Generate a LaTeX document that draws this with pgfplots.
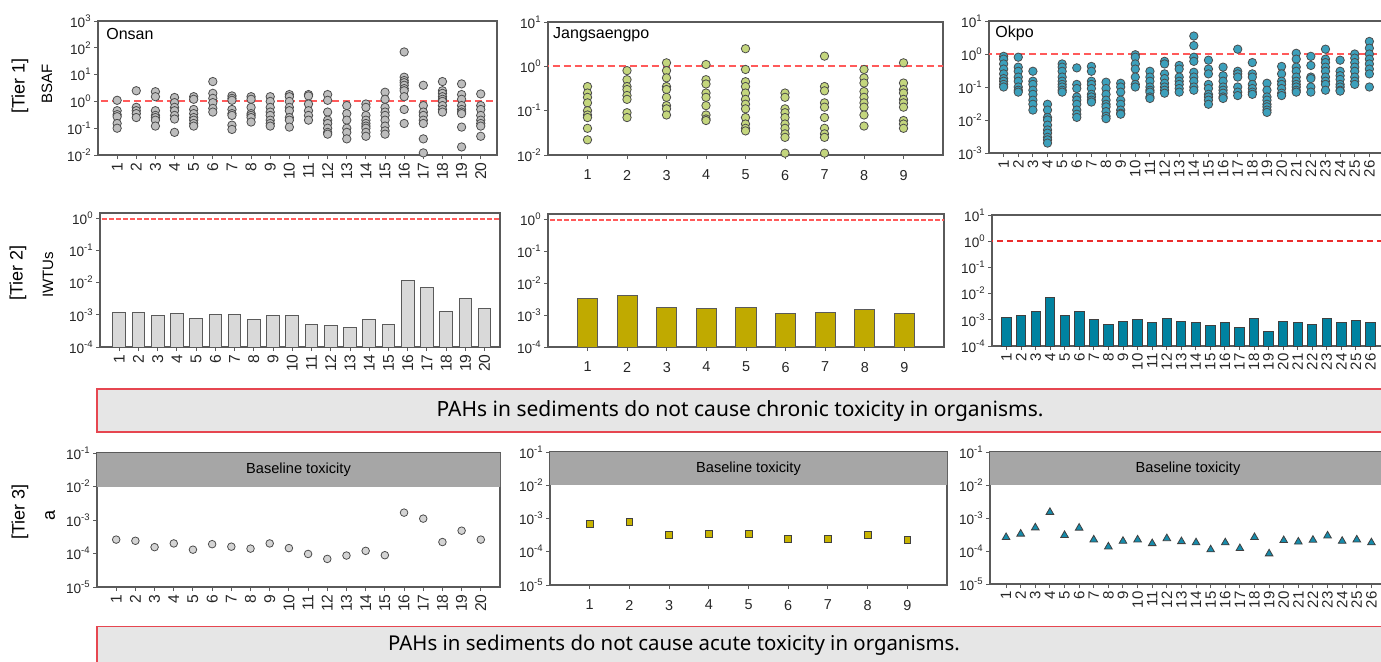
\documentclass[border=0pt]{standalone}
\usepackage{pgfplots}
\pgfplotsset{compat=1.18}
\usepackage{fontspec}
\setmainfont{Liberation Sans}
\newfontfamily\bannerfont{Noto Sans}
\definecolor{axgray}{HTML}{5A5A5A}
\definecolor{sgray}{HTML}{BDBDBD}
\definecolor{sgreen}{RGB}{196,214,125}
\definecolor{steal}{RGB}{60,160,188}
\definecolor{bgray}{HTML}{D9D9D9}
\definecolor{bolive}{RGB}{192,170,0}
\definecolor{bteal}{RGB}{0,130,160}
\definecolor{tgray}{HTML}{D4D4D4}
\definecolor{tolive}{RGB}{200,180,0}
\definecolor{tteal}{RGB}{22,140,172}
\definecolor{bandgray}{HTML}{A6A6A6}
\definecolor{bannerfill}{HTML}{E6E6E6}
\definecolor{bannerred}{RGB}{230,70,80}
\definecolor{dashred}{RGB}{255,90,90}
\definecolor{dashred2}{RGB}{235,45,45}
\newcommand{\ylab}{10\textsuperscript{\pgfmathparse{int(round(\tick))}\pgfmathresult}}
\pgfplotsset{every axis/.append style={
    scale only axis,
    /pgf/number format/assume math mode=true,
    axis line style={draw=axgray, line width=0.6pt},
    tick style={draw=axgray, line width=0.5pt},
    major tick length=2pt, tick align=outside,
    xtick pos=bottom, ytick pos=left,
    ticklabel style={text=black!85},
    yticklabel style={inner sep=1pt, font=\fontsize{6.8}{7.5}\selectfont},
    xticklabel style={font=\fontsize{7.8}{8.5}\selectfont},
}}
\tikzset{mysite/.style={font=\fontsize{8}{9}\selectfont, anchor=west, inner sep=0pt}}
\begin{document}
\begin{tikzpicture}
\path[use as bounding box] (0,0) rectangle (690.5pt,330.5pt);
% ---------------- Row 1 ----------------
\begin{axis}[anchor=south west, ymode=log, log basis y=10, yminorticks=false, yticklabel={\ylab},
  xticklabel style={rotate=90, anchor=east, inner sep=1.5pt},
  at={(49pt,253pt)}, width=199.5pt, height=67pt,
  xmin=0, xmax=20.85, ymin=1e-2, ymax=1e3, xtick={1,...,20},
  ytick={1e-2,1e-1,1,10,100,1000}]
\addplot[draw=dashred, line width=1pt, dash pattern=on 3.5pt off 2pt] coordinates {(-1,1) (30,1)};
\addplot[only marks, mark=*, mark size=2.1pt, mark options={fill=sgray, draw=black!70, line width=0.4pt}] coordinates {
(1,1.1)(1,0.45)(1,0.32)(1,0.27)(1,0.15)(1,0.1)
(2,2.5)(2,0.6)(2,0.45)(2,0.35)(2,0.25)
(3,2.3)(3,1.5)(3,0.45)(3,0.3)(3,0.25)(3,0.2)(3,0.12)
(4,1.4)(4,0.9)(4,0.6)(4,0.45)(4,0.3)(4,0.22)(4,0.07)
(5,1.5)(5,1.2)(5,0.5)(5,0.35)(5,0.25)(5,0.2)(5,0.15)(5,0.12)
(6,5.5)(6,2)(6,1.3)(6,0.9)(6,0.55)(6,0.4)
(7,1.6)(7,1.3)(7,1.1)(7,0.5)(7,0.35)(7,0.3)(7,0.13)(7,0.09)
(8,1.5)(8,1.2)(8,0.6)(8,0.35)(8,0.3)(8,0.25)(8,0.17)
(9,1.5)(9,1)(9,0.6)(9,0.4)(9,0.3)(9,0.2)(9,0.15)(9,0.12)
(10,1.8)(10,1.5)(10,1)(10,0.6)(10,0.45)(10,0.25)(10,0.2)(10,0.11)
(11,1.8)(11,1.6)(11,0.8)(11,0.45)(11,0.3)(11,0.2)
(12,1.8)(12,1.1)(12,0.4)(12,0.2)(12,0.15)(12,0.1)(12,0.07)(12,0.06)
(13,0.7)(13,0.35)(13,0.2)(13,0.1)(13,0.07)(13,0.04)
(14,0.8)(14,0.6)(14,0.3)(14,0.2)(14,0.15)(14,0.12)(14,0.1)(14,0.07)(14,0.05)
(15,2.2)(15,1.2)(15,0.6)(15,0.4)(15,0.3)(15,0.2)(15,0.12)(15,0.08)(15,0.06)
(16,70)(16,8)(16,6)(16,5)(16,4)(16,3)(16,2.5)(16,1.5)(16,0.5)(16,0.15)
(17,4)(17,0.7)(17,0.4)(17,0.3)(17,0.2)(17,0.15)(17,0.04)(17,0.012)
(18,5.5)(18,2.5)(18,2)(18,1.5)(18,1.2)(18,1)(18,0.7)(18,0.5)(18,0.4)
(19,4.5)(19,1.8)(19,1.2)(19,0.7)(19,0.5)(19,0.4)(19,0.35)(19,0.11)(19,0.02)
(20,1.9)(20,0.7)(20,0.5)(20,0.3)(20,0.2)(20,0.15)(20,0.12)(20,0.05)};
\node[mysite, xshift=4pt, yshift=-6.5pt] at (rel axis cs:0,1) {Onsan};
\end{axis}

\begin{axis}[anchor=south west, ymode=log, log basis y=10, yminorticks=false, yticklabel={\ylab},
  at={(274pt,253pt)}, width=197.5pt, height=66.5pt,
  xmin=0, xmax=10, ymin=1e-2, ymax=1e1, xtick={1,...,9},
  ytick={1e-2,1e-1,1,10}, xticklabel style={font=\fontsize{7.2}{8}\selectfont, yshift=-2pt}]
\addplot[draw=dashred, line width=0.9pt, dash pattern=on 3.5pt off 2pt] coordinates {(-1,1) (30,1)};
\addplot[only marks, mark=*, mark size=2.1pt, mark options={fill=sgreen, draw=black!70, line width=0.4pt}] coordinates {
(1,0.35)(1,0.25)(1,0.2)(1,0.15)(1,0.1)(1,0.08)(1,0.07)(1,0.04)(1,0.022)
(2,0.8)(2,0.5)(2,0.35)(2,0.3)(2,0.22)(2,0.18)(2,0.09)(2,0.07)
(3,1.2)(3,0.8)(3,0.55)(3,0.35)(3,0.3)(3,0.2)(3,0.13)(3,0.11)(3,0.08)
(4,1.1)(4,0.5)(4,0.4)(4,0.25)(4,0.2)(4,0.13)(4,0.08)(4,0.065)(4,0.06)
(5,2.5)(5,0.85)(5,0.45)(5,0.35)(5,0.25)(5,0.18)(5,0.14)(5,0.11)(5,0.07)(5,0.05)(5,0.04)(5,0.035)
(6,0.25)(6,0.2)(6,0.11)(6,0.09)(6,0.07)(6,0.05)(6,0.04)(6,0.03)(6,0.025)(6,0.011)
(7,1.7)(7,0.35)(7,0.28)(7,0.15)(7,0.12)(7,0.07)(7,0.04)(7,0.03)(7,0.025)(7,0.011)
(8,0.85)(8,0.55)(8,0.42)(8,0.27)(8,0.2)(8,0.15)(8,0.12)(8,0.08)(8,0.045)
(9,1.2)(9,0.42)(9,0.3)(9,0.25)(9,0.18)(9,0.15)(9,0.12)(9,0.06)(9,0.05)(9,0.04)};
\node[mysite, xshift=2.4pt, yshift=-6.5pt] at (rel axis cs:0,1) {Jangsaengpo};
\end{axis}

\begin{axis}[anchor=south west, ymode=log, log basis y=10, yminorticks=false, yticklabel={\ylab},
  xticklabel style={rotate=90, anchor=east, inner sep=1.5pt, font=\fontsize{7.5}{8}\selectfont},
  at={(494.5pt,254pt)}, width=197.5pt, height=66pt,
  xmin=0, xmax=27, ymin=1e-3, ymax=1e1, xtick={1,...,26},
  ytick={1e-3,1e-2,1e-1,1,10}]
\addplot[draw=dashred, line width=0.9pt, dash pattern=on 3.5pt off 2pt] coordinates {(-1,1) (30,1)};
\addplot[only marks, mark=*, mark size=2.1pt, mark options={fill=steal, draw=black!70, line width=0.4pt}] coordinates {
(1,0.85)(1,0.7)(1,0.5)(1,0.35)(1,0.25)(1,0.18)(1,0.15)(1,0.12)(1,0.1)
(2,0.8)(2,0.4)(2,0.3)(2,0.2)(2,0.15)(2,0.1)(2,0.08)(2,0.07)
(3,0.3)(3,0.15)(3,0.12)(3,0.08)(3,0.06)(3,0.04)(3,0.03)(3,0.02)
(4,0.03)(4,0.02)(4,0.012)(4,0.01)(4,0.007)(4,0.005)(4,0.004)(4,0.003)(4,0.0025)(4,0.002)
(5,0.5)(5,0.4)(5,0.3)(5,0.2)(5,0.15)(5,0.12)(5,0.1)(5,0.08)(5,0.07)
(6,0.38)(6,0.12)(6,0.09)(6,0.05)(6,0.04)(6,0.03)(6,0.02)(6,0.015)(6,0.012)
(7,0.42)(7,0.3)(7,0.15)(7,0.12)(7,0.09)(7,0.06)(7,0.05)(7,0.04)(7,0.035)
(8,0.14)(8,0.09)(8,0.06)(8,0.04)(8,0.03)(8,0.025)(8,0.018)(8,0.013)(8,0.011)
(9,0.13)(9,0.1)(9,0.07)(9,0.04)(9,0.03)(9,0.02)(9,0.016)(9,0.015)
(10,0.95)(10,0.8)(10,0.5)(10,0.35)(10,0.2)(10,0.12)(10,0.1)
(11,0.3)(11,0.2)(11,0.15)(11,0.1)(11,0.08)(11,0.07)(11,0.05)(11,0.045)
(12,0.6)(12,0.5)(12,0.25)(12,0.18)(12,0.13)(12,0.1)(12,0.08)(12,0.065)
(13,0.45)(13,0.35)(13,0.2)(13,0.15)(13,0.12)(13,0.09)(13,0.07)
(14,3.5)(14,1.8)(14,0.8)(14,0.6)(14,0.28)(14,0.2)(14,0.15)(14,0.1)(14,0.08)
(15,0.65)(15,0.35)(15,0.25)(15,0.12)(15,0.09)(15,0.06)(15,0.05)(15,0.04)(15,0.03)
(16,0.4)(16,0.22)(16,0.15)(16,0.1)(16,0.08)(16,0.065)(16,0.05)(16,0.045)
(17,1.4)(17,0.3)(17,0.25)(17,0.2)(17,0.1)(17,0.07)(17,0.055)
(18,0.55)(18,0.25)(18,0.2)(18,0.12)(18,0.09)(18,0.07)(18,0.06)
(19,0.13)(19,0.08)(19,0.05)(19,0.04)(19,0.03)(19,0.025)(19,0.02)(19,0.017)
(20,0.42)(20,0.25)(20,0.15)(20,0.12)(20,0.09)(20,0.065)(20,0.055)
(21,1.05)(21,0.7)(21,0.4)(21,0.3)(21,0.2)(21,0.15)(21,0.12)(21,0.1)(21,0.08)(21,0.07)
(22,0.85)(22,0.45)(22,0.2)(22,0.18)(22,0.1)(22,0.07)
(23,1.4)(23,0.7)(23,0.55)(23,0.4)(23,0.3)(23,0.2)(23,0.15)(23,0.12)(23,0.08)
(24,0.65)(24,0.3)(24,0.22)(24,0.17)(24,0.12)(24,0.1)(24,0.08)(24,0.075)
(25,1.0)(25,0.75)(25,0.55)(25,0.4)(25,0.3)(25,0.2)(25,0.15)(25,0.12)
(26,2.4)(26,1.5)(26,1.0)(26,0.7)(26,0.5)(26,0.35)(26,0.25)(26,0.1)};
\node[mysite, xshift=3pt, yshift=-6pt] at (rel axis cs:0,1) {Okpo};
\end{axis}

% ---------------- Row 2 ----------------
\begin{axis}[anchor=south west, ymode=log, log basis y=10, yminorticks=false, yticklabel={\ylab},
  xticklabel style={rotate=90, anchor=east, inner sep=1.5pt},
  at={(50pt,157pt)}, width=200pt, height=67pt,
  xmin=0, xmax=20.8, ymin=1e-4, ymax=1.46, xtick={1,...,20},
  ytick={1e-4,1e-3,1e-2,1e-1,1}, log origin y=infty]
\addplot[draw=dashred, line width=0.8pt, dash pattern=on 2.5pt off 1pt] coordinates {(-1,0.97) (30,0.97)};
\addplot[ybar, bar width=0.66, fill=bgray, draw=axgray, line width=0.5pt] coordinates {
(1,1.2e-3)(2,1.2e-3)(3,0.93e-3)(4,1.1e-3)(5,0.79e-3)(6,1.0e-3)(7,1.05e-3)(8,0.7e-3)(9,0.95e-3)(10,0.95e-3)
(11,0.51e-3)(12,0.48e-3)(13,0.4e-3)(14,0.7e-3)(15,0.51e-3)(16,0.0115)(17,0.0069)(18,1.3e-3)(19,3.2e-3)(20,1.6e-3)};
\end{axis}

\begin{axis}[anchor=south west, ymode=log, log basis y=10, yminorticks=false, yticklabel={\ylab},
  at={(274pt,157pt)}, width=198pt, height=66.5pt,
  xmin=0, xmax=10, ymin=1e-4, ymax=1.5, xtick={1,...,9},
  ytick={1e-4,1e-3,1e-2,1e-1,1}, log origin y=infty,
  xticklabel style={font=\fontsize{7.2}{8}\selectfont, yshift=-2pt}]
\addplot[draw=dashred, line width=0.8pt, dash pattern=on 2.5pt off 1pt] coordinates {(-1,0.97) (30,0.97)};
\addplot[ybar, bar width=0.51, fill=bolive, draw=axgray, line width=0.5pt] coordinates {
(1,3.4e-3)(2,4.0e-3)(3,1.74e-3)(4,1.6e-3)(5,1.74e-3)(6,1.15e-3)(7,1.2e-3)(8,1.5e-3)(9,1.15e-3)};
\end{axis}

\begin{axis}[anchor=south west, ymode=log, log basis y=10, yminorticks=false, yticklabel={\ylab},
  xticklabel style={rotate=90, anchor=east, inner sep=1.5pt, font=\fontsize{7.5}{8}\selectfont},
  at={(496pt,157.5pt)}, width=196.5pt, height=65.5pt,
  xmin=0, xmax=27, ymin=1e-4, ymax=10, xtick={1,...,26},
  ytick={1e-4,1e-3,1e-2,1e-1,1,10}, log origin y=infty]
\addplot[draw=dashred2, line width=0.9pt, dash pattern=on 3pt off 2pt] coordinates {(-1,1) (30,1)};
\addplot[ybar, bar width=0.64, fill=bteal, draw=black!75, line width=0.5pt] coordinates {
(1,1.2e-3)(2,1.4e-3)(3,2.1e-3)(4,6.9e-3)(5,1.4e-3)(6,2.1e-3)(7,1.0e-3)(8,0.68e-3)(9,0.9e-3)(10,1.0e-3)
(11,0.77e-3)(12,1.1e-3)(13,0.83e-3)(14,0.77e-3)(15,0.6e-3)(16,0.8e-3)(17,0.5e-3)(18,1.15e-3)(19,0.35e-3)(20,0.9e-3)
(21,0.79e-3)(22,0.66e-3)(23,1.1e-3)(24,0.79e-3)(25,0.94e-3)(26,0.79e-3)};
\end{axis}

% ---------------- Banner 1 ----------------
\draw[draw=bannerred, fill=bannerfill, line width=0.6pt] (48.5pt,114.5pt) rectangle (700pt,136pt);
\node[font=\bannerfont\fontsize{10.5}{12}\selectfont, inner sep=0pt] at (370pt,125pt) {PAHs in sediments do not cause chronic toxicity in organisms.};

% ---------------- Row 3 ----------------
\begin{axis}[anchor=south west, ymode=log, log basis y=10, yminorticks=false, yticklabel={\ylab},
  xticklabel style={rotate=90, anchor=east, inner sep=1.5pt},
  at={(48.5pt,37pt)}, width=201.5pt, height=67pt,
  xmin=0, xmax=21, ymin=1e-5, ymax=1e-1, xtick={1,...,20},
  ytick={1e-5,1e-4,1e-3,1e-2,1e-1}]
\addplot[fill=bandgray, draw=none] coordinates {(-1,1e-2) (30,1e-2) (30,1e-1) (-1,1e-1)} -- cycle;
\addplot[only marks, mark=*, mark size=1.9pt, mark options={fill=tgray, draw=black!70, line width=0.4pt}] coordinates {
(1,2.6e-4)(2,2.4e-4)(3,1.55e-4)(4,2.0e-4)(5,1.3e-4)(6,1.9e-4)(7,1.6e-4)(8,1.4e-4)(9,2.0e-4)(10,1.45e-4)
(11,9.7e-5)(12,6.9e-5)(13,8.7e-5)(14,1.2e-4)(15,8.9e-5)(16,1.66e-3)(17,1.1e-3)(18,2.2e-4)(19,4.8e-4)(20,2.6e-4)};
\node[font=\fontsize{7.3}{8}\selectfont] at (rel axis cs:0.5,0.875) {Baseline toxicity};
\end{axis}

\begin{axis}[anchor=south west, ymode=log, log basis y=10, yminorticks=false, yticklabel={\ylab},
  at={(275pt,38pt)}, width=198.5pt, height=66.5pt,
  xmin=0, xmax=10, ymin=1e-5, ymax=1e-1, xtick={1,...,9},
  ytick={1e-5,1e-4,1e-3,1e-2,1e-1},
  xticklabel style={font=\fontsize{7.2}{8}\selectfont, yshift=-2pt}]
\addplot[fill=bandgray, draw=none] coordinates {(-1,1e-2) (30,1e-2) (30,1e-1) (-1,1e-1)} -- cycle;
\addplot[only marks, mark=square*, mark size=1.7pt, mark options={fill=tolive, draw=black!75, line width=0.4pt}] coordinates {
(1,6.8e-4)(2,8.1e-4)(3,3.3e-4)(4,3.5e-4)(5,3.5e-4)(6,2.4e-4)(7,2.4e-4)(8,3.2e-4)(9,2.3e-4)};
\node[font=\fontsize{7.3}{8}\selectfont] at (rel axis cs:0.5,0.875) {Baseline toxicity};
\end{axis}

\begin{axis}[anchor=south west, ymode=log, log basis y=10, yminorticks=false, yticklabel={\ylab},
  xticklabel style={rotate=90, anchor=east, inner sep=1.5pt, font=\fontsize{7.5}{8}\selectfont},
  at={(495pt,38.5pt)}, width=198pt, height=66pt,
  xmin=-0.1, xmax=27, ymin=1e-5, ymax=1e-1, xtick={1,...,26},
  ytick={1e-5,1e-4,1e-3,1e-2,1e-1}]
\addplot[fill=bandgray, draw=none] coordinates {(-1,1e-2) (30,1e-2) (30,1e-1) (-1,1e-1)} -- cycle;
\addplot[only marks, mark=triangle*, mark size=2.2pt, mark options={fill=tteal, draw=black!75, line width=0.4pt}] coordinates {
(1,2.6e-4)(2,3.3e-4)(3,5.1e-4)(4,1.5e-3)(5,3.0e-4)(6,5.0e-4)(7,2.2e-4)(8,1.35e-4)(9,2.0e-4)(10,2.2e-4)
(11,1.7e-4)(12,2.4e-4)(13,1.95e-4)(14,1.8e-4)(15,1.1e-4)(16,1.8e-4)(17,1.2e-4)(18,2.6e-4)(19,8.3e-5)(20,2.1e-4)
(21,1.9e-4)(22,2.15e-4)(23,2.9e-4)(24,2.0e-4)(25,2.2e-4)(26,1.8e-4)};
\node[font=\fontsize{7.3}{8}\selectfont] at (rel axis cs:0.5,0.875) {Baseline toxicity};
\end{axis}

% ---------------- Banner 2 ----------------
\draw[draw=bannerred, fill=bannerfill, line width=0.6pt] (48.5pt,-5pt) rectangle (700pt,17.2pt);
\node[font=\bannerfont\fontsize{10.2}{12}\selectfont, inner sep=0pt] at (337pt,8pt) {PAHs in sediments do not cause acute toxicity in organisms.};

% ---------------- Row labels ----------------
\node[rotate=90, font=\fontsize{9}{10}\selectfont] at (10pt,287.5pt) {[Tier 1]};
\node[rotate=90, font=\fontsize{7.5}{9}\selectfont] at (23.5pt,288.5pt) {BSAF};
\node[rotate=90, font=\fontsize{9}{10}\selectfont] at (9pt,194pt) {[Tier 2]};
\node[rotate=90, font=\fontsize{7.5}{9}\selectfont] at (24pt,193pt) {IWTUs};
\node[rotate=90, font=\fontsize{9}{10}\selectfont] at (10pt,74.5pt) {[Tier 3]};
\node[rotate=90, font=\fontsize{9}{10}\selectfont] at (25pt,73pt) {a};
\end{tikzpicture}
\end{document}
